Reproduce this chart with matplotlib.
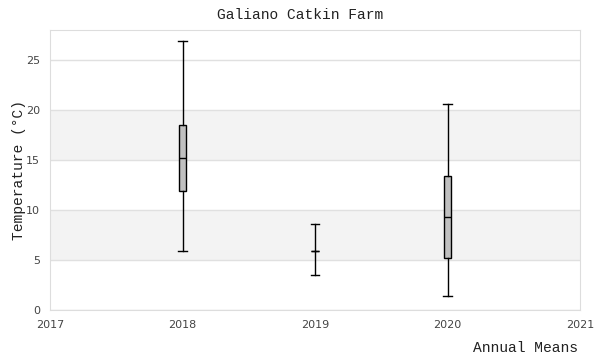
import matplotlib
matplotlib.use("Agg")
import matplotlib.pyplot as plt

# annual temperature summaries
years = [2018, 2019, 2020]
lows = [5.9, 3.5, 1.4]
q1s = [11.9, 5.9, 5.2]
medians = [15.2, 5.9, 9.3]
q3s = [18.5, 5.9, 13.4]
highs = [26.9, 8.6, 20.6]

stats = []
for lo, q1, med, q3, hi in zip(lows, q1s, medians, q3s, highs):
    stats.append({"whislo": lo, "q1": q1, "med": med, "q3": q3, "whishi": hi, "fliers": []})

fig = plt.figure(figsize=(6, 3.6), dpi=100)
ax = fig.add_axes([50 / 600, 1 - 310 / 360, 530 / 600, 280 / 360])

# alternating grey bands
for lo, hi in [(5, 10), (15, 20)]:
    ax.axhspan(lo, hi, color="#f3f3f3", zorder=0, lw=0)

line = dict(color="black", linewidth=1)
ax.bxp(stats, positions=years, widths=0.06, capwidths=0.065,
       patch_artist=True, showfliers=False,
       boxprops=dict(facecolor="#c0c0c0", edgecolor="black", linewidth=1),
       whiskerprops=line, capprops=line, medianprops=line, zorder=3)

ax.set_xlim(2017, 2021)
ax.set_ylim(0, 28)
ax.set_xticks([2017, 2018, 2019, 2020, 2021])
ax.set_xticklabels(["2017", "2018", "2019", "2020", "2021"])
ax.set_yticks([0, 5, 10, 15, 20, 25])
ax.yaxis.grid(True, color="#e0e0e0", linewidth=1, zorder=1)
ax.set_axisbelow(True)
ax.tick_params(length=0, labelsize=8, colors="#444444", pad=7)
for s in ax.spines.values():
    s.set_color("#dddddd")

mono = "Liberation Mono"
fig.text(0.5, 1 - 15 / 360, "Galiano Catkin Farm", family=mono, fontsize=10.5,
         color="#222222", ha="center", va="center")
ax.set_ylabel("Temperature (°C)", family=mono, fontsize=10.5, color="#222222")
ax.yaxis.set_label_coords(-24 / 530, 0.5)
fig.text(578 / 600, 1 - 348 / 360, "Annual Means", family=mono, fontsize=10.5,
         color="#222222", ha="right", va="center")

fig.savefig("out.png", dpi=100)
